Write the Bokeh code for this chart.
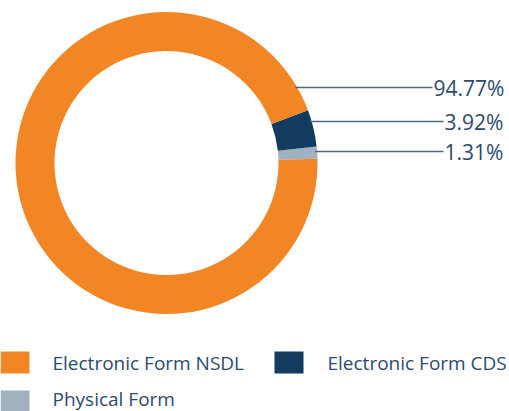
import math
from bokeh.plotting import figure
from bokeh.models import Range1d, ColumnDataSource
from bokeh.core.properties import value
from bokeh.embed import file_html
from bokeh.resources import INLINE

# ---- data ----
categories = ["Physical Form", "Electronic Form CDS", "Electronic Form NSDL"]
shares = [1.31, 3.92, 94.77]
colors = ["#A2B1C0", "#133A5F", "#F38624"]
label_order = ["Electronic Form NSDL", "Electronic Form CDS", "Physical Form"]

W, H = 509, 411
p = figure(width=W, height=H, output_backend="svg", toolbar_location=None,
           x_range=Range1d(0, W), y_range=Range1d(0, H),
           x_axis_location=None, y_axis_location=None, min_border=0)
p.outline_line_color = None
p.grid.visible = False
p.background_fill_color = "white"

cx, cy = 166, H - 162.5
R, r = 151, 112
start_deg = 1.6
starts, ends = [], []
a = math.radians(start_deg)
for s in shares:
    starts.append(a)
    a += s / 100 * 2 * math.pi
    ends.append(a)

src = ColumnDataSource(dict(start=starts, end=ends, color=colors, cat=categories))
p.annular_wedge(x=cx, y=cy, inner_radius=r, outer_radius=R, start_angle="start",
                end_angle="end", fill_color="color", line_color=None, source=src)

# leader lines and labels
text_col = "#2C4A6E"
line_col = "#4F6A88"
label_y = {"Electronic Form NSDL": 87, "Electronic Form CDS": 121, "Physical Form": 151}
label_end = {"Electronic Form NSDL": 432, "Electronic Form CDS": 443, "Physical Form": 443}
for cat, s in zip(categories, shares):
    py = label_y[cat]
    ang = math.asin((H - py - cy) / R)
    x0 = cx + R * math.cos(ang) - 2
    p.line([x0, label_end[cat]], [H - py, H - py], line_color=line_col, line_width=1.5)
    p.text([label_end[cat] + 1], [H - py], text=[f"{s:.2f}%"], text_color=text_col,
           text_font=value("Open Sans"), text_font_size="21px",
           text_baseline="middle", text_align="left")

# legend
col_of = dict(zip(categories, colors))
leg_pos = {"Electronic Form NSDL": (0, 362, 362, 52), "Electronic Form CDS": (274, 362, 362, 327),
           "Physical Form": (0, 401, 398, 52)}
for cat in label_order:
    sx, sy, ty, tx = leg_pos[cat]
    p.rect([sx + 14.5], [H - sy], width=29, height=22, fill_color=col_of[cat], line_color=None)
    p.text([tx], [H - ty], text=[cat], text_color=text_col, text_font=value("Open Sans"),
           text_font_size="19px", text_baseline="middle", text_align="left")

open("out.html", "w").write(file_html(p, INLINE))
